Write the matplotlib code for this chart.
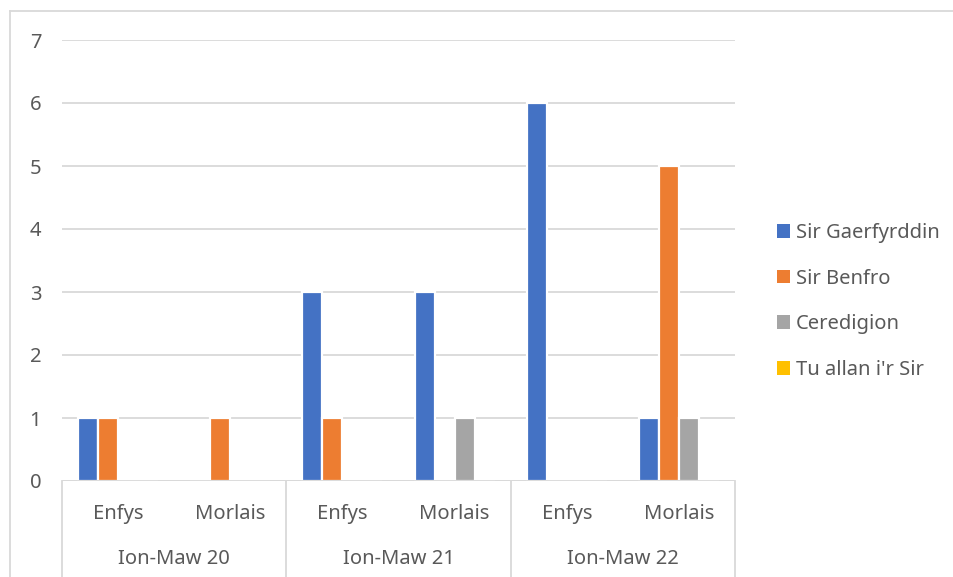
import matplotlib
matplotlib.use("Agg")
import matplotlib.pyplot as plt
from matplotlib.patches import Patch
from matplotlib.lines import Line2D
from matplotlib.transforms import blended_transform_factory
import numpy as np

plt.rcParams['font.family'] = ['Noto Sans', 'DejaVu Sans']

periods = ["Ion-Maw 20", "Ion-Maw 21", "Ion-Maw 22"]
subcats = ["Enfys", "Morlais"]
series_names = ["Sir Gaerfyrddin", "Sir Benfro", "Ceredigion", "Tu allan i'r Sir"]
colors = ["#4472C4", "#ED7D31", "#A5A5A5", "#FFC000"]
sir_gaerfyrddin = [1, 0, 3, 3, 6, 1]
sir_benfro = [1, 1, 1, 0, 0, 5]
ceredigion = [0, 0, 0, 1, 0, 1]
tu_allan = [0, 0, 0, 0, 0, 0]
yticks = [0, 1, 2, 3, 4, 5, 6, 7]

series = [sir_gaerfyrddin, sir_benfro, ceredigion, tu_allan]
text_color = "#595959"
grid_color = "#D9D9D9"
fs = 14.5

W, H = 954, 577
fig = plt.figure(figsize=(W / 100, H / 100), dpi=100)
ax = fig.add_axes([62 / W, 1 - 481 / H, (735 - 62) / W, (481 - 40) / H])

n = len(sir_gaerfyrddin)
x = np.arange(n)
slot = 0.178
for i, (vals, c) in enumerate(zip(series, colors)):
    offs = (i - 1.5) * slot
    ax.bar(x + offs, vals, width=slot, color=c, edgecolor="white", linewidth=1.6, zorder=3)

ax.set_xlim(-0.5, n - 0.5)
ax.set_ylim(0, 7)
ax.set_yticks(yticks)
ax.set_yticklabels([str(t) for t in yticks], fontsize=fs, color=text_color)
ax.tick_params(axis='y', length=0, pad=15)
ax.set_xticks([])
ax.yaxis.grid(True, color=grid_color, linewidth=1.3, zorder=0)
for s in ax.spines.values():
    s.set_visible(False)
ax.axhline(0, color=grid_color, linewidth=1.3, zorder=4)

trans = blended_transform_factory(ax.transData, ax.transAxes)
axh = (481 - 40)
y_sub = -(514 - 481) / axh
y_grp = -(559 - 481) / axh
y_bot = -(H - 481) / axh
for i in range(n):
    ax.text(i, y_sub, subcats[i % 2], transform=trans, ha='center', va='center',
            fontsize=fs, color=text_color)
for g, p in enumerate(periods):
    ax.text(2 * g + 0.5, y_grp, p, transform=trans, ha='center', va='center',
            fontsize=fs, color=text_color)
for b in [-0.5, 1.5, 3.5, 5.5]:
    ax.add_line(Line2D([b, b], [0, y_bot], transform=trans, color=grid_color,
                       linewidth=1.3, clip_on=False))

# chart border
fig.add_artist(Line2D([10 / W, 1], [1 - 11 / H, 1 - 11 / H], transform=fig.transFigure,
                      color=grid_color, linewidth=1.3))
fig.add_artist(Line2D([10 / W, 10 / W], [0, 1 - 11 / H], transform=fig.transFigure,
                      color=grid_color, linewidth=1.3))

handles = [Patch(facecolor=c, edgecolor='none') for c in colors]
leg = fig.legend(handles, series_names, loc='center left',
                 bbox_to_anchor=(777 / W, 1 - 301.5 / H), frameon=False,
                 fontsize=fs, labelcolor=text_color, handlelength=0.65, handleheight=0.65,
                 handletextpad=0.3, labelspacing=1.27, borderpad=0, borderaxespad=0)

fig.savefig("out.png", dpi=100)
